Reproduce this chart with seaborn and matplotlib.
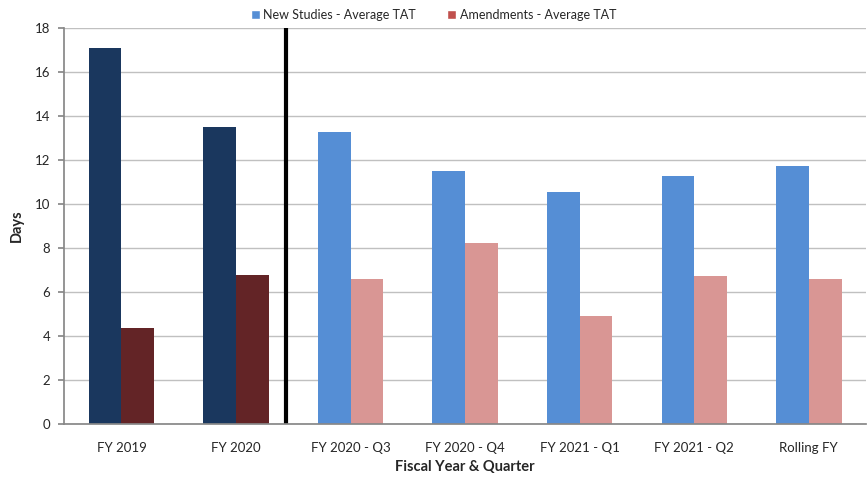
import numpy as np
import pandas as pd
import matplotlib
matplotlib.use("Agg")
import matplotlib.pyplot as plt
import seaborn as sns
from matplotlib.patches import Patch

# Valeurs
periods = ['FY 2019', 'FY 2020', 'FY 2020 - Q3', 'FY 2020 - Q4',
           'FY 2021 - Q1', 'FY 2021 - Q2', 'Rolling FY']
new_studies = [17.1, 13.5, 13.27, 11.5, 10.55, 11.27, 11.73]
amendments = [4.36, 6.77, 6.59, 8.23, 4.91, 6.73, 6.59]
series_names = ['New Studies - Average TAT', 'Amendments - Average TAT']

df = pd.DataFrame({
    'period': periods * 2,
    'series': [series_names[0]] * len(periods) + [series_names[1]] * len(periods),
    'days': new_studies + amendments,
})

sns.set_theme(style="white")
plt.rcParams['font.family'] = ['Lato', 'DejaVu Sans']

fig = plt.figure(figsize=(8.67, 4.78), dpi=100)
ax = fig.add_axes([0.074, 0.113, 0.925, 0.828])

sns.barplot(data=df, x='period', y='days', hue='series', order=periods,
            hue_order=series_names, width=0.57, gap=0, ax=ax,
            legend=False, saturation=1, errorbar=None)

# couleurs : années pleines foncées, trimestres clairs
dark = {'New': '#1a375e', 'Amend': '#632426'}
light = {'New': '#558ed5', 'Amend': '#d99694'}
n = len(periods)
for i, p in enumerate(ax.patches[:2 * n]):
    cat = i % n
    key = 'New' if i < n else 'Amend'
    p.set_facecolor(dark[key] if cat < 2 else light[key])
    p.set_edgecolor('none')

ax.axvline(1.44, color='black', linewidth=3, ymin=0, ymax=1)

ax.set_ylim(0, 18)
ax.set_yticks(np.arange(0, 19, 2))
ax.set_xlim(-0.5, n - 0.5)
ax.yaxis.grid(True, color='#c0c0c0', linewidth=1)
ax.set_axisbelow(True)
for s in ['top', 'right']:
    ax.spines[s].set_visible(False)
ax.spines['left'].set_color('#888888')
ax.spines['bottom'].set_color('#888888')
ax.tick_params(axis='y', left=True, length=4, color='#888888', labelsize=9.5, pad=6)
ax.tick_params(axis='x', bottom=False, labelsize=9.5, pad=7)

ax.set_xlabel('Fiscal Year & Quarter', fontsize=10.5, fontweight='bold', labelpad=4)
ax.set_ylabel('Days', fontsize=10.5, fontweight='bold', labelpad=8)

handles = [Patch(facecolor='#558ed5', label=series_names[0]),
           Patch(facecolor='#c0504d', label=series_names[1])]
fig.legend(handles=handles, loc='upper center', bbox_to_anchor=(0.5, 1.005),
           ncol=2, frameon=False, fontsize=9, handlelength=0.7,
           handleheight=0.7, handletextpad=0.3, columnspacing=2.5)

plt.savefig('out.png', dpi=100)
